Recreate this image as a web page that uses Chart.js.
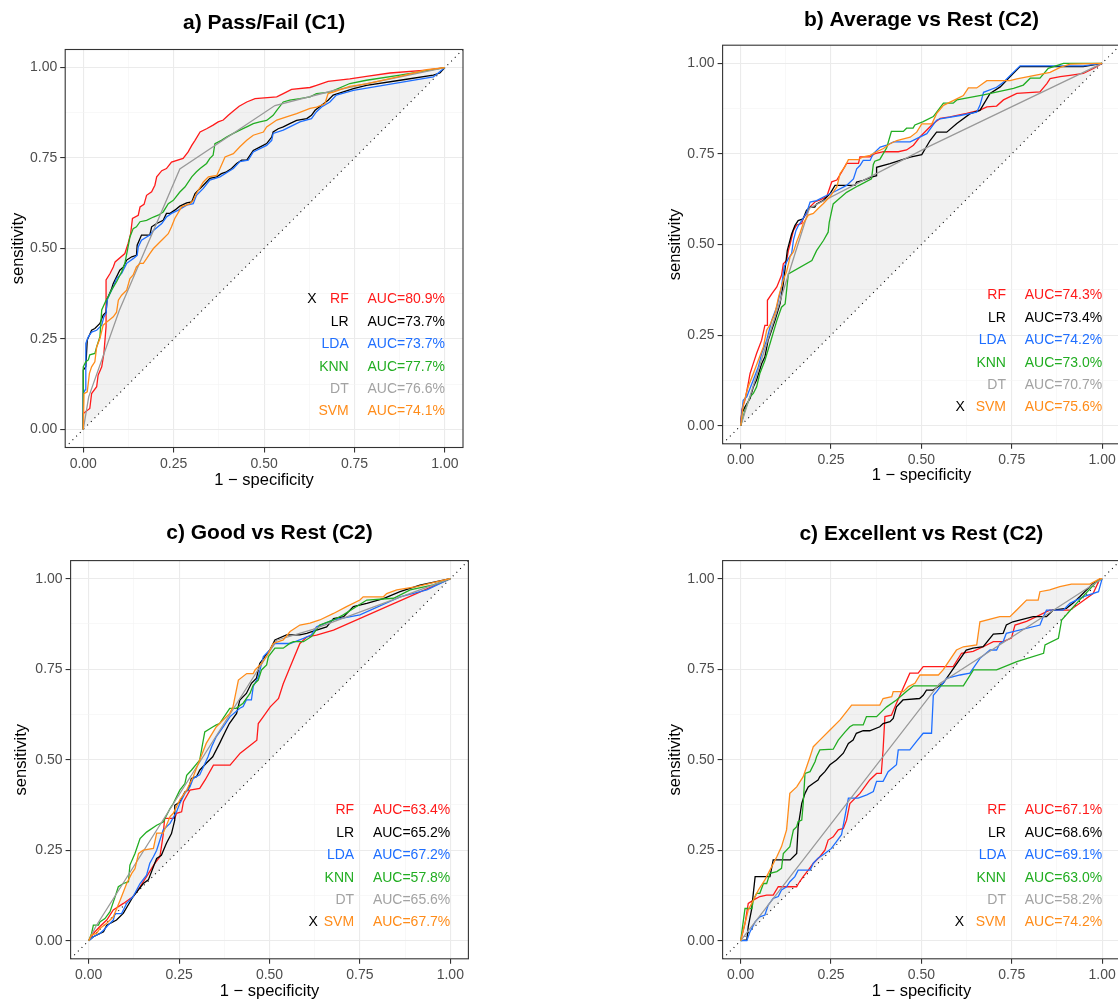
<!DOCTYPE html>
<html>
<head>
<meta charset="utf-8">
<title>ROC curves</title>
<script src="https://cdn.jsdelivr.net/npm/chart.js@4.4.1/dist/chart.umd.min.js"></script>
<style>
  html, body { margin: 0; padding: 0; background: #fff; }
  body { width: 1118px; height: 1003px; overflow: hidden; position: relative; }
  canvas { position: absolute; }
</style>
</head>
<body>
<canvas id="panel-a"></canvas>
<canvas id="panel-b"></canvas>
<canvas id="panel-c"></canvas>
<canvas id="panel-d"></canvas>
<script>
(function() {
  "use strict";

  // ---- data ----
  const models = ["RF", "LR", "LDA", "KNN", "DT", "SVM"];
  const majorTicks = [0, 0.25, 0.5, 0.75, 1];
  const allTicks = [0, 0.125, 0.25, 0.375, 0.5, 0.625, 0.75, 0.875, 1];
  const chanceLine = [[-0.05, -0.05], [1.05, 1.05]];
  const fillBase = [[0, 0], [1, 1]];

  const titles = ["a) Pass/Fail (C1)", "b) Average vs Rest (C2)", "c) Good vs Rest (C2)", "c) Excellent vs Rest (C2)"];
  const aucPassFail = ["80.9", "73.7", "73.7", "77.7", "76.6", "74.1"];
  const aucAverage = ["74.3", "73.4", "74.2", "73.0", "70.7", "75.6"];
  const aucGood = ["63.4", "65.2", "67.2", "57.8", "65.6", "67.7"];
  const aucExcellent = ["67.1", "68.6", "69.1", "63.0", "58.2", "74.2"];
  const bestModel = [0, 5, 5, 5]; // the one marked with X

  // a) Pass/Fail
  const pfRF = [[0,0],[0,0.044],[0.018,0.058],[0.023,0.099],[0.037,0.118],[0.041,0.150],[0.051,0.173],[0.057,0.210],[0.063,0.284],[0.063,0.413],[0.074,0.431],[0.083,0.449],[0.088,0.463],[0.115,0.486],[0.124,0.514],[0.131,0.541],[0.136,0.583],[0.152,0.592],[0.157,0.615],[0.168,0.622],[0.175,0.647],[0.189,0.657],[0.198,0.675],[0.203,0.698],[0.217,0.715],[0.230,0.721],[0.244,0.739],[0.276,0.749],[0.290,0.767],[0.300,0.785],[0.309,0.799],[0.323,0.822],[0.341,0.831],[0.359,0.841],[0.373,0.850],[0.387,0.855],[0.401,0.868],[0.415,0.880],[0.431,0.893],[0.452,0.905],[0.475,0.914],[0.535,0.919],[0.553,0.928],[0.576,0.940],[0.627,0.945],[0.645,0.951],[0.677,0.962],[0.737,0.969],[0.783,0.976],[0.848,0.985],[0.949,0.993],[1,1]];
  const pfLR = [[0,0],[0,0.164],[0.007,0.173],[0.011,0.247],[0.023,0.274],[0.032,0.279],[0.046,0.293],[0.055,0.316],[0.063,0.324],[0.066,0.361],[0.077,0.385],[0.083,0.403],[0.092,0.422],[0.101,0.440],[0.111,0.449],[0.120,0.468],[0.134,0.477],[0.147,0.481],[0.149,0.509],[0.161,0.537],[0.184,0.537],[0.189,0.560],[0.203,0.569],[0.221,0.578],[0.230,0.597],[0.240,0.597],[0.253,0.606],[0.267,0.617],[0.286,0.626],[0.300,0.629],[0.309,0.652],[0.318,0.661],[0.332,0.675],[0.350,0.694],[0.369,0.698],[0.382,0.707],[0.396,0.712],[0.410,0.721],[0.424,0.735],[0.438,0.744],[0.452,0.744],[0.470,0.771],[0.488,0.780],[0.507,0.790],[0.521,0.808],[0.525,0.822],[0.539,0.831],[0.553,0.836],[0.571,0.845],[0.590,0.854],[0.618,0.859],[0.631,0.868],[0.641,0.882],[0.659,0.896],[0.677,0.910],[0.691,0.924],[0.719,0.933],[0.747,0.942],[0.783,0.951],[0.876,0.965],[0.968,0.979],[0.986,0.985],[1,1]];
  const pfLDA = [[0,0],[0,0.099],[0.005,0.109],[0.007,0.238],[0.014,0.256],[0.023,0.269],[0.037,0.274],[0.051,0.288],[0.057,0.311],[0.063,0.320],[0.066,0.357],[0.074,0.376],[0.083,0.394],[0.092,0.417],[0.106,0.431],[0.120,0.459],[0.138,0.472],[0.149,0.481],[0.152,0.504],[0.161,0.523],[0.184,0.537],[0.194,0.550],[0.217,0.569],[0.230,0.587],[0.244,0.597],[0.263,0.606],[0.286,0.620],[0.304,0.624],[0.313,0.647],[0.332,0.666],[0.350,0.689],[0.378,0.698],[0.415,0.721],[0.433,0.740],[0.456,0.744],[0.470,0.767],[0.507,0.785],[0.521,0.799],[0.525,0.818],[0.553,0.827],[0.571,0.836],[0.599,0.850],[0.631,0.859],[0.645,0.878],[0.659,0.891],[0.682,0.905],[0.700,0.924],[0.747,0.937],[0.829,0.951],[0.968,0.974],[1,1]];
  const pfKNN = [[0,0],[0,0.173],[0.007,0.187],[0.014,0.192],[0.018,0.206],[0.032,0.210],[0.037,0.228],[0.046,0.256],[0.051,0.330],[0.063,0.357],[0.069,0.366],[0.078,0.385],[0.092,0.408],[0.106,0.435],[0.115,0.459],[0.124,0.505],[0.129,0.532],[0.138,0.555],[0.147,0.560],[0.157,0.574],[0.175,0.578],[0.194,0.587],[0.207,0.592],[0.221,0.601],[0.235,0.624],[0.249,0.633],[0.267,0.656],[0.281,0.670],[0.300,0.698],[0.313,0.712],[0.323,0.721],[0.341,0.735],[0.350,0.749],[0.359,0.758],[0.364,0.790],[0.382,0.799],[0.396,0.808],[0.415,0.818],[0.433,0.827],[0.452,0.836],[0.470,0.845],[0.488,0.850],[0.507,0.854],[0.525,0.868],[0.535,0.882],[0.553,0.905],[0.571,0.910],[0.599,0.914],[0.627,0.919],[0.645,0.928],[0.682,0.932],[0.737,0.956],[0.783,0.965],[0.876,0.979],[1,1]];
  const pfDT = [[0,0],[0.015,0.09],[0.1,0.33],[0.267,0.72],[0.53,0.895],[0.69,0.936],[1,1]];
  const pfSVM = [[0,0],[0.002,0.099],[0.011,0.104],[0.017,0.155],[0.023,0.173],[0.032,0.187],[0.037,0.228],[0.046,0.251],[0.055,0.288],[0.065,0.297],[0.083,0.311],[0.092,0.324],[0.097,0.357],[0.106,0.371],[0.120,0.385],[0.129,0.417],[0.138,0.427],[0.147,0.449],[0.157,0.459],[0.166,0.459],[0.175,0.472],[0.184,0.486],[0.194,0.500],[0.203,0.509],[0.221,0.527],[0.235,0.541],[0.244,0.560],[0.253,0.583],[0.272,0.615],[0.295,0.624],[0.304,0.633],[0.313,0.652],[0.332,0.684],[0.346,0.698],[0.369,0.702],[0.378,0.721],[0.392,0.753],[0.415,0.762],[0.433,0.781],[0.452,0.799],[0.470,0.813],[0.498,0.822],[0.507,0.836],[0.535,0.855],[0.562,0.864],[0.590,0.873],[0.627,0.887],[0.645,0.891],[0.668,0.900],[0.677,0.928],[0.691,0.932],[0.737,0.948],[0.783,0.955],[0.876,0.976],[0.949,0.994],[1,1]];

  // b) Average vs Rest
  const avgRF = [[0,0],[0.003,0.043],[0.012,0.071],[0.021,0.117],[0.026,0.144],[0.035,0.172],[0.044,0.199],[0.058,0.236],[0.067,0.277],[0.074,0.277],[0.074,0.346],[0.086,0.364],[0.100,0.383],[0.113,0.415],[0.118,0.447],[0.127,0.456],[0.132,0.483],[0.137,0.502],[0.146,0.539],[0.155,0.554],[0.169,0.558],[0.173,0.572],[0.183,0.586],[0.192,0.604],[0.206,0.618],[0.220,0.623],[0.238,0.632],[0.252,0.673],[0.266,0.678],[0.280,0.701],[0.293,0.724],[0.326,0.724],[0.330,0.742],[0.358,0.742],[0.372,0.751],[0.395,0.756],[0.436,0.756],[0.459,0.761],[0.478,0.774],[0.496,0.797],[0.515,0.816],[0.533,0.834],[0.552,0.848],[0.579,0.852],[0.625,0.862],[0.662,0.871],[0.681,0.880],[0.708,0.882],[0.727,0.899],[0.764,0.917],[0.828,0.921],[0.847,0.944],[0.856,0.958],[0.884,0.963],[0.911,0.967],[0.948,0.972],[0.976,0.986],[1,1]];
  const avgLR = [[0,0],[0.003,0.034],[0.012,0.052],[0.026,0.075],[0.035,0.107],[0.044,0.126],[0.058,0.171],[0.067,0.190],[0.076,0.236],[0.095,0.291],[0.109,0.337],[0.118,0.392],[0.129,0.484],[0.141,0.529],[0.150,0.552],[0.159,0.566],[0.173,0.571],[0.182,0.594],[0.192,0.603],[0.205,0.603],[0.210,0.612],[0.228,0.621],[0.247,0.640],[0.261,0.663],[0.316,0.663],[0.321,0.672],[0.339,0.677],[0.362,0.686],[0.376,0.690],[0.376,0.713],[0.413,0.723],[0.441,0.732],[0.469,0.741],[0.501,0.748],[0.524,0.787],[0.542,0.810],[0.570,0.810],[0.598,0.834],[0.635,0.861],[0.662,0.870],[0.690,0.917],[0.718,0.935],[0.745,0.963],[0.773,0.991],[0.948,0.991],[1,1]];
  const avgLDA = [[0,0],[0.003,0.034],[0.007,0.070],[0.017,0.080],[0.026,0.103],[0.035,0.126],[0.049,0.163],[0.058,0.199],[0.072,0.236],[0.086,0.291],[0.100,0.328],[0.113,0.383],[0.120,0.438],[0.132,0.461],[0.141,0.475],[0.146,0.512],[0.153,0.539],[0.160,0.553],[0.169,0.566],[0.183,0.589],[0.192,0.617],[0.210,0.621],[0.229,0.631],[0.266,0.649],[0.293,0.663],[0.312,0.681],[0.321,0.709],[0.330,0.718],[0.339,0.732],[0.358,0.732],[0.367,0.751],[0.386,0.769],[0.404,0.774],[0.423,0.783],[0.469,0.783],[0.487,0.792],[0.515,0.806],[0.542,0.843],[0.552,0.847],[0.607,0.856],[0.653,0.865],[0.662,0.884],[0.672,0.920],[0.708,0.934],[0.727,0.948],[0.745,0.966],[0.773,0.993],[0.948,0.993],[1,1]];
  const avgKNN = [[0,0],[0.012,0.043],[0.026,0.080],[0.035,0.089],[0.044,0.107],[0.053,0.144],[0.067,0.180],[0.081,0.226],[0.100,0.290],[0.113,0.327],[0.123,0.336],[0.132,0.419],[0.197,0.456],[0.210,0.483],[0.229,0.511],[0.242,0.534],[0.245,0.561],[0.256,0.612],[0.266,0.621],[0.293,0.644],[0.325,0.662],[0.362,0.681],[0.367,0.721],[0.371,0.730],[0.385,0.735],[0.404,0.767],[0.417,0.812],[0.450,0.812],[0.459,0.821],[0.477,0.821],[0.482,0.830],[0.505,0.839],[0.533,0.853],[0.561,0.890],[0.588,0.890],[0.598,0.899],[0.672,0.913],[0.755,0.931],[0.782,0.940],[0.801,0.959],[0.828,0.959],[0.851,0.986],[0.893,1],[1,1]];
  const avgDT = [[0,0],[0.19,0.60],[0.52,0.77],[1,1]];
  const avgSVM = [[0,0],[0.007,0.057],[0.021,0.108],[0.035,0.144],[0.049,0.181],[0.063,0.218],[0.072,0.264],[0.081,0.278],[0.095,0.310],[0.105,0.356],[0.118,0.402],[0.127,0.425],[0.137,0.467],[0.146,0.480],[0.155,0.508],[0.164,0.531],[0.173,0.558],[0.187,0.581],[0.201,0.586],[0.215,0.600],[0.229,0.613],[0.247,0.632],[0.266,0.659],[0.275,0.696],[0.288,0.714],[0.298,0.734],[0.325,0.734],[0.339,0.742],[0.358,0.746],[0.376,0.756],[0.395,0.765],[0.413,0.778],[0.432,0.787],[0.469,0.796],[0.487,0.810],[0.501,0.833],[0.529,0.833],[0.542,0.861],[0.561,0.884],[0.588,0.897],[0.616,0.911],[0.630,0.932],[0.653,0.932],[0.681,0.952],[0.745,0.952],[0.764,0.957],[0.856,0.975],[0.884,0.989],[0.911,0.998],[1,1]];

  // c) Good vs Rest
  const goodRF = [[0,0],[0.013,0.020],[0.031,0.039],[0.050,0.057],[0.068,0.085],[0.096,0.103],[0.123,0.122],[0.142,0.149],[0.160,0.177],[0.183,0.214],[0.197,0.232],[0.206,0.292],[0.210,0.338],[0.238,0.338],[0.243,0.352],[0.257,0.356],[0.262,0.384],[0.280,0.416],[0.307,0.421],[0.322,0.444],[0.345,0.485],[0.391,0.485],[0.419,0.518],[0.442,0.536],[0.465,0.554],[0.469,0.600],[0.483,0.619],[0.502,0.646],[0.525,0.669],[0.538,0.710],[0.557,0.756],[0.584,0.821],[0.603,0.839],[0.630,0.844],[0.677,0.858],[1,1]];
  const goodLR = [[0,0],[0.013,0.011],[0.041,0.025],[0.050,0.043],[0.077,0.057],[0.096,0.076],[0.123,0.122],[0.151,0.158],[0.165,0.168],[0.179,0.204],[0.188,0.227],[0.201,0.236],[0.215,0.269],[0.229,0.296],[0.238,0.333],[0.238,0.374],[0.252,0.383],[0.266,0.411],[0.275,0.416],[0.284,0.448],[0.298,0.453],[0.307,0.471],[0.325,0.490],[0.343,0.508],[0.362,0.545],[0.380,0.582],[0.389,0.600],[0.409,0.628],[0.418,0.665],[0.436,0.683],[0.450,0.711],[0.464,0.725],[0.473,0.766],[0.487,0.785],[0.501,0.803],[0.515,0.831],[0.547,0.845],[0.584,0.845],[0.603,0.849],[0.630,0.858],[0.658,0.867],[0.677,0.890],[0.705,0.895],[0.732,0.923],[0.769,0.932],[0.815,0.945],[0.861,0.964],[0.916,0.982],[1,1]];
  const goodLDA = [[0,0],[0.013,0.011],[0.031,0.020],[0.041,0.029],[0.054,0.043],[0.068,0.057],[0.073,0.075],[0.091,0.075],[0.105,0.103],[0.123,0.122],[0.142,0.158],[0.160,0.181],[0.169,0.214],[0.179,0.232],[0.188,0.250],[0.197,0.278],[0.206,0.306],[0.225,0.324],[0.243,0.356],[0.252,0.379],[0.266,0.407],[0.280,0.425],[0.289,0.448],[0.307,0.458],[0.330,0.508],[0.340,0.536],[0.353,0.564],[0.372,0.591],[0.391,0.619],[0.418,0.642],[0.427,0.647],[0.436,0.665],[0.450,0.665],[0.455,0.702],[0.469,0.729],[0.483,0.785],[0.501,0.803],[0.515,0.821],[0.557,0.821],[0.594,0.835],[0.616,0.845],[0.630,0.867],[0.677,0.886],[0.750,0.900],[0.861,0.950],[0.935,0.969],[1,1]];
  const goodKNN = [[0,0],[0.008,0.020],[0.013,0.043],[0.027,0.043],[0.031,0.052],[0.045,0.061],[0.059,0.080],[0.073,0.121],[0.082,0.149],[0.096,0.158],[0.110,0.163],[0.114,0.209],[0.128,0.241],[0.142,0.282],[0.160,0.300],[0.188,0.319],[0.206,0.328],[0.225,0.365],[0.234,0.379],[0.252,0.416],[0.266,0.434],[0.271,0.457],[0.284,0.471],[0.307,0.499],[0.321,0.577],[0.344,0.591],[0.353,0.596],[0.362,0.600],[0.390,0.642],[0.408,0.642],[0.427,0.656],[0.446,0.683],[0.455,0.706],[0.469,0.720],[0.478,0.748],[0.492,0.762],[0.497,0.785],[0.515,0.808],[0.538,0.808],[0.557,0.822],[0.566,0.826],[0.594,0.826],[0.616,0.840],[0.639,0.872],[0.677,0.886],[0.704,0.900],[0.769,0.941],[0.843,0.946],[0.889,0.969],[0.953,0.983],[1,1]];
  const goodDT = [[0,0],[0.02,0.04],[0.52,0.83],[0.62,0.86],[1,1]];
  const goodSVM = [[0,0],[0.008,0.016],[0.022,0.020],[0.031,0.034],[0.050,0.048],[0.068,0.066],[0.087,0.112],[0.105,0.158],[0.119,0.186],[0.128,0.199],[0.138,0.241],[0.151,0.250],[0.179,0.255],[0.188,0.297],[0.206,0.297],[0.225,0.343],[0.234,0.352],[0.252,0.389],[0.271,0.416],[0.289,0.453],[0.307,0.499],[0.325,0.545],[0.353,0.591],[0.390,0.628],[0.399,0.646],[0.414,0.720],[0.437,0.738],[0.455,0.738],[0.460,0.748],[0.478,0.766],[0.497,0.794],[0.510,0.821],[0.538,0.831],[0.557,0.854],[0.584,0.872],[0.612,0.877],[0.639,0.886],[0.677,0.904],[0.713,0.923],[0.750,0.941],[0.759,0.950],[0.815,0.950],[0.824,0.959],[0.852,0.969],[0.907,0.978],[0.944,0.987],[0.981,0.996],[1,1]];

  // d) Excellent vs Rest
  const excRF = [[0,0],[0.012,0.048],[0.021,0.103],[0.035,0.112],[0.053,0.122],[0.072,0.126],[0.090,0.126],[0.104,0.149],[0.155,0.149],[0.160,0.158],[0.173,0.177],[0.187,0.195],[0.201,0.214],[0.219,0.232],[0.233,0.250],[0.242,0.278],[0.256,0.287],[0.270,0.306],[0.284,0.310],[0.293,0.333],[0.302,0.379],[0.330,0.407],[0.357,0.444],[0.376,0.462],[0.389,0.462],[0.394,0.527],[0.399,0.619],[0.417,0.623],[0.431,0.656],[0.445,0.688],[0.468,0.739],[0.491,0.739],[0.505,0.757],[0.588,0.757],[0.611,0.794],[0.643,0.799],[0.671,0.812],[0.699,0.826],[0.726,0.826],[0.749,0.836],[0.759,0.872],[0.791,0.882],[0.855,0.913],[0.911,0.913],[0.938,0.932],[0.975,0.959],[0.994,1],[1,1]];
  const excLR = [[0,0],[0.017,0.002],[0.021,0.039],[0.030,0.085],[0.040,0.177],[0.081,0.177],[0.090,0.223],[0.137,0.223],[0.155,0.241],[0.159,0.315],[0.169,0.379],[0.178,0.407],[0.187,0.425],[0.201,0.435],[0.214,0.444],[0.219,0.453],[0.233,0.467],[0.247,0.486],[0.265,0.499],[0.284,0.518],[0.298,0.545],[0.311,0.554],[0.320,0.573],[0.339,0.580],[0.357,0.580],[0.385,0.591],[0.394,0.600],[0.413,0.605],[0.422,0.614],[0.431,0.646],[0.449,0.665],[0.495,0.669],[0.505,0.678],[0.514,0.692],[0.532,0.692],[0.560,0.711],[0.624,0.803],[0.643,0.808],[0.671,0.812],[0.699,0.847],[0.726,0.849],[0.735,0.872],[0.753,0.881],[0.809,0.895],[0.846,0.895],[0.864,0.913],[0.901,0.918],[0.919,0.932],[0.938,0.950],[0.975,0.987],[1,1]];
  const excLDA = [[0,0],[0.017,0],[0.026,0.025],[0.040,0.052],[0.053,0.066],[0.067,0.071],[0.076,0.098],[0.090,0.117],[0.104,0.122],[0.113,0.140],[0.127,0.149],[0.136,0.163],[0.150,0.177],[0.159,0.195],[0.192,0.195],[0.201,0.214],[0.214,0.228],[0.233,0.241],[0.251,0.255],[0.265,0.274],[0.279,0.293],[0.298,0.394],[0.325,0.394],[0.349,0.403],[0.367,0.412],[0.376,0.440],[0.394,0.440],[0.408,0.467],[0.431,0.486],[0.436,0.527],[0.468,0.527],[0.486,0.550],[0.505,0.573],[0.528,0.573],[0.533,0.678],[0.542,0.688],[0.570,0.725],[0.607,0.734],[0.634,0.739],[0.662,0.780],[0.690,0.803],[0.708,0.803],[0.717,0.821],[0.726,0.826],[0.735,0.849],[0.754,0.854],[0.828,0.872],[0.837,0.895],[0.846,0.913],[0.892,0.913],[0.911,0.932],[0.947,0.950],[0.990,0.964],[1,1]];
  const excKNN = [[0,0],[0.012,0.089],[0.031,0.089],[0.035,0.112],[0.044,0.131],[0.053,0.131],[0.063,0.158],[0.072,0.158],[0.081,0.186],[0.100,0.191],[0.113,0.200],[0.118,0.241],[0.136,0.260],[0.146,0.306],[0.155,0.315],[0.159,0.329],[0.169,0.333],[0.173,0.379],[0.178,0.462],[0.192,0.467],[0.206,0.495],[0.210,0.508],[0.219,0.527],[0.256,0.529],[0.270,0.554],[0.289,0.577],[0.302,0.591],[0.311,0.596],[0.339,0.596],[0.348,0.619],[0.376,0.619],[0.394,0.637],[0.404,0.646],[0.431,0.665],[0.460,0.690],[0.478,0.704],[0.616,0.704],[0.644,0.748],[0.708,0.748],[0.764,0.771],[0.838,0.794],[0.842,0.817],[0.879,0.835],[0.888,0.886],[0.921,0.923],[0.985,0.992],[1,1]];
  const excDT = [[0,0],[0.55,0.71],[1,1]];
  const excSVM = [[0,0],[0.012,0.048],[0.021,0.085],[0.035,0.112],[0.049,0.140],[0.067,0.168],[0.081,0.195],[0.100,0.232],[0.113,0.260],[0.127,0.306],[0.136,0.407],[0.155,0.425],[0.173,0.453],[0.192,0.508],[0.201,0.536],[0.219,0.554],[0.247,0.582],[0.275,0.610],[0.307,0.651],[0.385,0.651],[0.394,0.669],[0.418,0.674],[0.422,0.688],[0.450,0.688],[0.464,0.702],[0.482,0.711],[0.496,0.734],[0.547,0.734],[0.560,0.748],[0.597,0.803],[0.616,0.812],[0.653,0.817],[0.662,0.881],[0.717,0.895],[0.745,0.895],[0.763,0.913],[0.791,0.941],[0.823,0.941],[0.828,0.964],[0.855,0.969],[0.883,0.978],[0.915,0.985],[0.966,0.985],[0.994,1],[1,1]];

  // ---- styles and layout ----
  const FONT = "'Liberation Sans', Arial, Helvetica, sans-serif";
  const lineColors = ["#ff1a1a", "#000000", "#1f6fff", "#22ad22", "#999999", "#ff8c1a"];
  const textColors = ["#ff1a1a", "#000000", "#1f6fff", "#22ad22", "#a3a3a3", "#ff8c1a"];
  const legendRowY = [0.36, 0.297, 0.235, 0.173, 0.112, 0.051];
  const legendNameX = 0.734;
  const legendAucX = 1.0;

  // canvas box and chart area (in canvas pixels) for each panel
  const panels = [
    { id: "panel-a", box: [0, 0, 480, 505], area: [65.2, 49.5, 463.0, 447.5], titlePad: [10.4, 13.9],
      yTitlePad: 8.4, xTitlePad: 15.1, markX: 0.632,
      curves: [pfRF, pfLR, pfLDA, pfKNN, pfDT, pfSVM], auc: aucPassFail },
    { id: "panel-b", box: [650, 0, 480, 505], area: [72.6, 45.2, 470.2, 443.8], titlePad: [7.4, 12.6],
      yTitlePad: 15.1, xTitlePad: 20.1, markX: 0.607,
      curves: [avgRF, avgLR, avgLDA, avgKNN, avgDT, avgSVM], auc: aucAverage },
    { id: "panel-c", box: [0, 505, 480, 498], area: [70.6, 55.6, 468.4, 453.8], titlePad: [15.7, 14.7],
      yTitlePad: 11.8, xTitlePad: 1.4, markX: 0.621,
      curves: [goodRF, goodLR, goodLDA, goodKNN, goodDT, goodSVM], auc: aucGood },
    { id: "panel-d", box: [650, 505, 480, 498], area: [72.6, 55.6, 470.2, 453.8], titlePad: [16.4, 14.0],
      yTitlePad: 15.1, xTitlePad: 1.4, markX: 0.605,
      curves: [excRF, excLR, excLDA, excKNN, excDT, excSVM], auc: aucExcellent }
  ];

  function toPoints(arr) {
    return arr.map(d => ({x: d[0], y: d[1]}));
  }

  function isMajor(ctx) {
    return ctx.tick && majorTicks.includes(ctx.tick.value);
  }

  function axis(p, horizontal) {
    return {
      type: "linear",
      min: -0.05,
      max: 1.05,
      afterBuildTicks: s => { s.ticks = allTicks.map(v => ({value: v})); },
      afterFit: s => {
        if (horizontal) {
          s.height = p.box[3] - p.area[3];
        } else {
          s.width = p.area[0];
        }
      },
      border: { display: false },
      grid: {
        color: ctx => isMajor(ctx) ? "#ebebeb" : "#f4f4f4",
        lineWidth: ctx => isMajor(ctx) ? 1.1 : 0.6,
        drawTicks: true,
        tickLength: 5,
        tickWidth: 1.1,
        tickColor: ctx => isMajor(ctx) ? "#333333" : "rgba(0,0,0,0)"
      },
      ticks: {
        autoSkip: false,
        maxRotation: 0,
        padding: 3,
        color: "#4d4d4d",
        font: { family: FONT, size: 14 },
        callback: v => majorTicks.includes(v) ? v.toFixed(2) : ""
      },
      title: {
        display: true,
        text: horizontal ? "1 \u2212 specificity" : "sensitivity",
        color: "#000",
        font: { family: FONT, size: 16.5, lineHeight: 1.2 },
        padding: horizontal ? { top: 0, bottom: p.xTitlePad } : { top: p.yTitlePad, bottom: 0 }
      }
    };
  }

  function makeChart(p, n) {
    let canvas = document.getElementById(p.id);
    canvas.width = p.box[2];
    canvas.height = p.box[3];
    canvas.style.left = p.box[0] + "px";
    canvas.style.top = p.box[1] + "px";

    let datasets = [];
    p.curves.forEach((curve, i) => {
      datasets.push({
        label: models[i],
        data: toPoints(curve),
        borderColor: lineColors[i],
        borderWidth: 1.3,
        backgroundColor: "rgba(0,0,0,0.055)",
        pointRadius: 0,
        tension: 0,
        fill: i === bestModel[n] ? 6 : false,
        order: 6 - i
      });
    });
    // index 6: base of the shaded area
    datasets.push({
      label: "base",
      data: toPoints(fillBase),
      borderWidth: 0,
      borderColor: "rgba(0,0,0,0)",
      pointRadius: 0,
      fill: false,
      order: 20
    });
    datasets.push({
      label: "chance",
      data: toPoints(chanceLine),
      borderColor: "#000",
      borderWidth: 1.1,
      borderDash: [1, 4.2],
      pointRadius: 0,
      fill: false,
      order: 10
    });

    let textPlugin = {
      id: "aucText",
      afterDraw(chart) {
        let ctx = chart.ctx;
        let x = chart.scales.x;
        let y = chart.scales.y;
        let a = chart.chartArea;
        ctx.save();
        ctx.font = "14px " + FONT;
        ctx.textBaseline = "middle";
        models.forEach((m, i) => {
          let py = y.getPixelForValue(legendRowY[i]);
          ctx.fillStyle = textColors[i];
          ctx.textAlign = "right";
          ctx.fillText(m, x.getPixelForValue(legendNameX), py);
          ctx.fillText("AUC=" + p.auc[i] + "%", x.getPixelForValue(legendAucX), py);
        });
        ctx.fillStyle = "#000";
        ctx.textAlign = "center";
        ctx.fillText("X", x.getPixelForValue(p.markX), y.getPixelForValue(legendRowY[bestModel[n]]));
        // panel border
        ctx.strokeStyle = "#333333";
        ctx.lineWidth = 1.1;
        ctx.strokeRect(a.left, a.top, a.right - a.left, a.bottom - a.top);
        ctx.restore();
      }
    };

    return new Chart(canvas, {
      type: "line",
      data: { datasets: datasets },
      options: {
        responsive: false,
        animation: false,
        events: [],
        layout: { padding: { left: 0, top: 0, bottom: 0, right: p.box[2] - p.area[2] } },
        scales: {
          x: axis(p, true),
          y: axis(p, false)
        },
        plugins: {
          legend: { display: false },
          tooltip: { enabled: false },
          filler: { drawTime: "beforeDatasetsDraw" },
          title: {
            display: true,
            text: titles[n],
            fullSize: false,
            color: "#000",
            font: { family: FONT, size: 21, weight: "bold", lineHeight: 1.2 },
            padding: { top: p.titlePad[0], bottom: p.titlePad[1] }
          }
        }
      },
      plugins: [textPlugin]
    });
  }

  panels.forEach((p, n) => makeChart(p, n));
})();
</script>
</body>
</html>
